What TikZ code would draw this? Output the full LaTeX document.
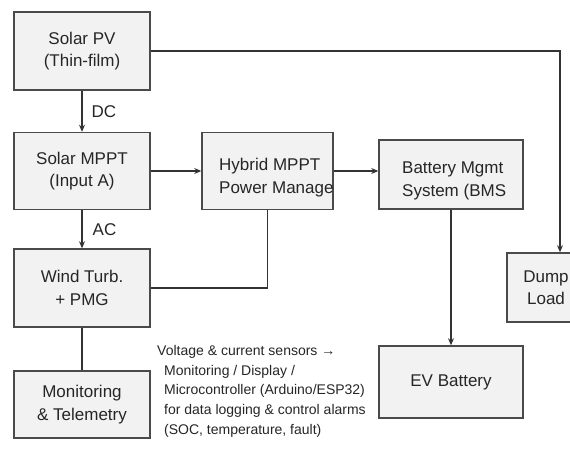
\documentclass[tikz,border=0pt]{standalone}
\usepackage{fontspec}
\setmainfont{Liberation Sans}
\usetikzlibrary{arrows.meta}
\definecolor{boxfill}{HTML}{F2F2F2}
\definecolor{boxline}{HTML}{4A4A4A}
\definecolor{txt}{HTML}{262626}
\definecolor{wire}{HTML}{333333}
\begin{document}
\begin{tikzpicture}[x=1pt,y=-1pt,
  blk/.style={draw=boxline,line width=1.5pt,fill=boxfill,rectangle,inner sep=0pt,
    text=txt,align=center,font=\fontsize{17}{22.5}\selectfont},
  lbl/.style={text=txt,inner sep=0pt,font=\fontsize{17}{22.5}\selectfont},
  wireline/.style={draw=wire,line width=1.4pt},
  arr/.style={wireline,-{Stealth[length=7pt,width=6pt]}},
  note/.style={text=txt,inner sep=0pt,align=left,font=\fontsize{14}{19.8}\selectfont}
]
\clip (0,0) rectangle (570,450);
\fill[white] (0,0) rectangle (570,450);

% boxes
\node[blk,minimum width=136pt,minimum height=78pt] (pv) at (82,51) {Solar PV\\(Thin-film)};
\node[blk,minimum width=136pt,minimum height=77pt] (mppt) at (82,171) {Solar MPPT\\(Input A)};
\node[blk,minimum width=131pt,minimum height=77pt] (hyb) at (267.5,171) {};
\node[blk,minimum width=144pt,minimum height=69pt] (bms) at (451,174.5) {};
\node[blk,minimum width=136pt,minimum height=78pt] (wind) at (82,288) {Wind Turb.\\+ PMG};
\node[blk,minimum width=136pt,minimum height=67pt] (mon) at (82,404.5) {Monitoring\\\& Telemetry};
\node[blk,minimum width=144pt,minimum height=72pt] (ev) at (451,382) {EV Battery};
\node[blk,minimum width=78pt,minimum height=69pt] (dump) at (546,287.5) {Dump\\Load};

% clipped texts of the two overflowing boxes
\begin{scope}
  \clip (hyb.north west) rectangle ([xshift=-1pt]hyb.south east);
  \node[lbl,anchor=west,align=left] (hybtxt) at (219,177.5) {Hybrid MPPT\\Power Manager};
\end{scope}
\node[lbl,anchor=west,align=left] (bmstxt) at (402,181) {Battery Mgmt\\System (BMS};

% connectors
\draw[arr] (pv.south) -- (mppt.north) node[lbl,midway,right=9pt] (dc) {DC};
\draw[arr] (mppt.south) -- (wind.north) node[lbl,midway,right=10pt] (ac) {AC};
\draw[arr] (mppt.east) -- (mppt.east -| hyb.west);
\draw[arr] (hyb.east) -- (hyb.east -| bms.west);
\draw[arr] (bms.south) -- (ev.north);
\draw[wireline] (hyb.south) |- (wind.east);
\draw[wireline] (wind.south) -- (mon.north);
\draw[arr] (pv.east) -| ([xshift=14pt]dump.north);

% note
\node[note,anchor=north west] (sensors) at (157,345)
 {Voltage \& current sensors →\\
  \hspace*{7pt}Monitoring / Display /\\
  \hspace*{7pt}Microcontroller (Arduino/ESP32)\\
  \hspace*{7pt}for data logging \& control alarms\\
  \hspace*{7pt}(SOC, temperature, fault)};
\end{tikzpicture}
\end{document}
